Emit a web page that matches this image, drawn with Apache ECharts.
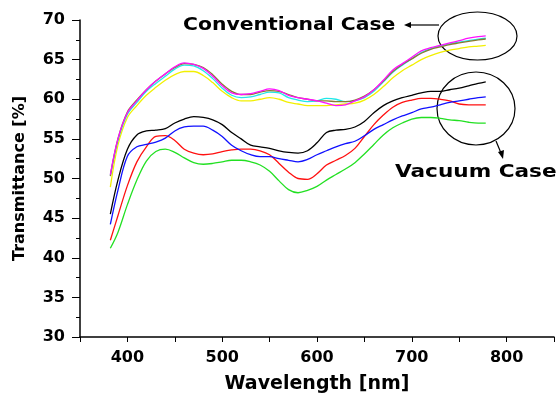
<!DOCTYPE html>
<html>
<head>
<meta charset="utf-8">
<script src="https://cdn.jsdelivr.net/npm/echarts@6/dist/echarts.min.js"></script>
<style>
html,body{margin:0;padding:0;background:#fff;}
#chart{width:559px;height:394px;}
</style>
</head>
<body>
<div id="chart"></div>
<script>
// Wavelength sample positions (nm)
var wavelength = [382,390,400,410,420,430,440,450,460,470,480,490,500,510,520,530,540,550,560,570,580,590,600,610,620,630,640,650,660,670,680,690,700,710,720,730,740,750,760,770,778];

// Conventional case
var convMagenta = [50.5,55.0,58.3,59.8,61.2,62.3,63.2,64.1,64.6,64.4,63.9,62.9,61.7,60.8,60.6,60.7,61.0,61.3,61.1,60.5,60.2,60.0,59.8,59.5,59.2,59.3,59.8,60.3,61.2,62.4,63.7,64.5,65.3,66.1,66.5,66.8,67.1,67.4,67.7,67.9,68.0];
var convOlive   = [50.3,55.0,58.4,59.9,61.2,62.3,63.2,64.0,64.5,64.4,64.0,63.1,61.9,61.0,60.6,60.6,60.9,61.1,61.0,60.6,60.2,60.0,59.8,59.8,59.7,59.7,59.9,60.4,61.2,62.3,63.5,64.4,65.1,65.8,66.3,66.6,66.9,67.1,67.3,67.5,67.6];
var convCyan    = [50.4,54.8,58.1,59.6,61.0,62.0,62.9,63.8,64.3,64.2,63.6,62.6,61.4,60.5,60.2,60.3,60.6,60.9,60.8,60.2,59.9,59.7,59.8,60.1,60.0,59.7,59.8,60.2,61.0,62.2,63.4,64.3,65.1,65.9,66.4,66.7,67.0,67.2,67.4,67.6,67.7];
var convYellow  = [48.9,54.2,57.7,59.2,60.5,61.5,62.4,63.1,63.5,63.5,63.0,62.1,61.0,60.2,59.8,59.8,60.0,60.2,60.0,59.6,59.4,59.2,59.2,59.2,59.3,59.4,59.5,59.9,60.6,61.6,62.7,63.6,64.3,65.0,65.5,65.9,66.2,66.4,66.6,66.7,66.8];

// Vacuum case
var vacBlack = [45.5,49.8,53.7,55.5,56.0,56.1,56.3,57.0,57.5,57.8,57.7,57.4,56.8,55.8,55.0,54.2,54.0,53.8,53.5,53.3,53.2,53.5,54.5,55.8,56.1,56.2,56.5,57.2,58.3,59.2,59.8,60.2,60.5,60.8,61.0,61.0,61.2,61.4,61.7,62.0,62.2];
var vacBlue  = [44.2,48.5,52.8,54.0,54.3,54.6,55.1,56.0,56.5,56.6,56.6,56.1,55.3,54.2,53.5,53.0,52.75,52.75,52.5,52.3,52.1,52.4,53.0,53.5,54.0,54.4,54.7,55.4,56.2,56.8,57.4,57.9,58.3,58.8,59.0,59.3,59.6,59.8,60.0,60.2,60.3];
var vacRed   = [42.2,45.3,49.1,52.1,54.0,55.3,55.4,54.8,53.7,53.2,53.0,53.1,53.4,53.6,53.7,53.7,53.5,53.0,51.9,50.8,50.0,49.9,50.6,51.7,52.3,52.9,53.8,55.3,56.8,58.0,59.0,59.6,59.9,60.1,60.1,60.0,59.8,59.4,59.3,59.3,59.3];
var vacGreen = [41.2,43.2,46.7,49.8,52.2,53.4,53.7,53.3,52.6,52.0,51.8,51.9,52.1,52.3,52.3,52.1,51.7,50.9,49.7,48.6,48.2,48.5,49.0,49.8,50.5,51.2,52.0,53.1,54.3,55.5,56.4,57.0,57.5,57.7,57.7,57.6,57.4,57.3,57.1,57.0,57.0];

var xTickLabels = ['400','500','600','700','800'];
var yTickLabels = ['30','35','40','45','50','55','60','65','70'];

function pairs(ys){ return wavelength.map(function(x,i){ return [x, ys[i]]; }); }

var seriesDefs = [
  {name:'Vacuum green', data:vacGreen, color:'#22e022'},
  {name:'Vacuum red', data:vacRed, color:'#ff1010'},
  {name:'Vacuum blue', data:vacBlue, color:'#1010ff'},
  {name:'Vacuum black', data:vacBlack, color:'#000000'},
  {name:'Conventional yellow', data:convYellow, color:'#f2f000'},
  {name:'Conventional cyan', data:convCyan, color:'#20e8e8'},
  {name:'Conventional olive', data:convOlive, color:'#8a7a30'},
  {name:'Conventional magenta', data:convMagenta, color:'#ff10ff'}
];

var FONT = '"DejaVu Sans", sans-serif';

var chart = echarts.init(document.getElementById('chart'), null, {renderer:'canvas'});
chart.setOption({
  animation:false,
  backgroundColor:'#fff',
  grid:{left:80, right:5, top:20, bottom:57, containLabel:false, outerBoundsMode:'none'},
  xAxis:{
    type:'value', min:350, max:850, interval:50,
    name:'Wavelength [nm]', nameLocation:'middle', nameGap:38,
    nameTextStyle:{fontFamily:FONT, fontWeight:'bold', fontSize:19, color:'#000'},
    axisLine:{show:true, onZero:false, lineStyle:{color:'#000', width:1.5}},
    axisTick:{show:true, length:5, lineStyle:{color:'#000', width:1}},
    splitLine:{show:false},
    axisLabel:{
      margin:13, fontFamily:FONT, fontWeight:'bold', fontSize:16, color:'#000',
      formatter:function(v){ var s=String(v); return xTickLabels.indexOf(s)>=0 ? s : ''; }
    }
  },
  yAxis:{
    type:'value', min:30, max:70, interval:5,
    name:'Transmittance [%]', nameLocation:'middle', nameGap:52, nameRotate:90,
    nameTextStyle:{fontFamily:FONT, fontWeight:'bold', fontSize:16, color:'#000'},
    axisLine:{show:true, lineStyle:{color:'#000', width:1.5}},
    axisTick:{show:true, length:8, lineStyle:{color:'#000', width:1}},
    minorTick:{show:true, splitNumber:2, length:4, lineStyle:{color:'#000', width:1}},
    splitLine:{show:false},
    axisLabel:{
      margin:15, fontFamily:FONT, fontWeight:'bold', fontSize:16, color:'#000',
      formatter:function(v){ var s=String(v); return yTickLabels.indexOf(s)>=0 ? s : ''; }
    }
  },
  series: seriesDefs.map(function(d){
    return {
      name:d.name, type:'line', data:pairs(d.data), showSymbol:false, smooth:0.35,
      lineStyle:{color:d.color, width:1.3}, itemStyle:{color:d.color}
    };
  }),
  graphic:[
    {type:'text', x:183, y:25, scaleX:1.13, style:{text:'Conventional Case', font:'bold 18px '+FONT, fill:'#000', verticalAlign:'middle', textVerticalAlign:'middle'}},
    {type:'line', shape:{x1:439, y1:25, x2:410, y2:25}, style:{stroke:'#000', lineWidth:1.2}},
    {type:'polygon', shape:{points:[[404,25],[411,22],[411,28]]}, style:{fill:'#000'}},
    {type:'ellipse', shape:{cx:477.5, cy:36, rx:39.5, ry:24}, style:{fill:'none', stroke:'#000', lineWidth:1.2}},
    {type:'ellipse', shape:{cx:476, cy:108.5, rx:39, ry:36.5}, style:{fill:'none', stroke:'#000', lineWidth:1.2}},
    {type:'line', shape:{x1:496, y1:141, x2:501, y2:153}, style:{stroke:'#000', lineWidth:1.2}},
    {type:'polygon', shape:{points:[[503,159],[498,152],[504,150]]}, style:{fill:'#000'}},
    {type:'text', x:395, y:172, scaleX:1.2, style:{text:'Vacuum Case', font:'bold 18px '+FONT, fill:'#000', verticalAlign:'middle', textVerticalAlign:'middle'}}
  ]
});
</script>
</body>
</html>
